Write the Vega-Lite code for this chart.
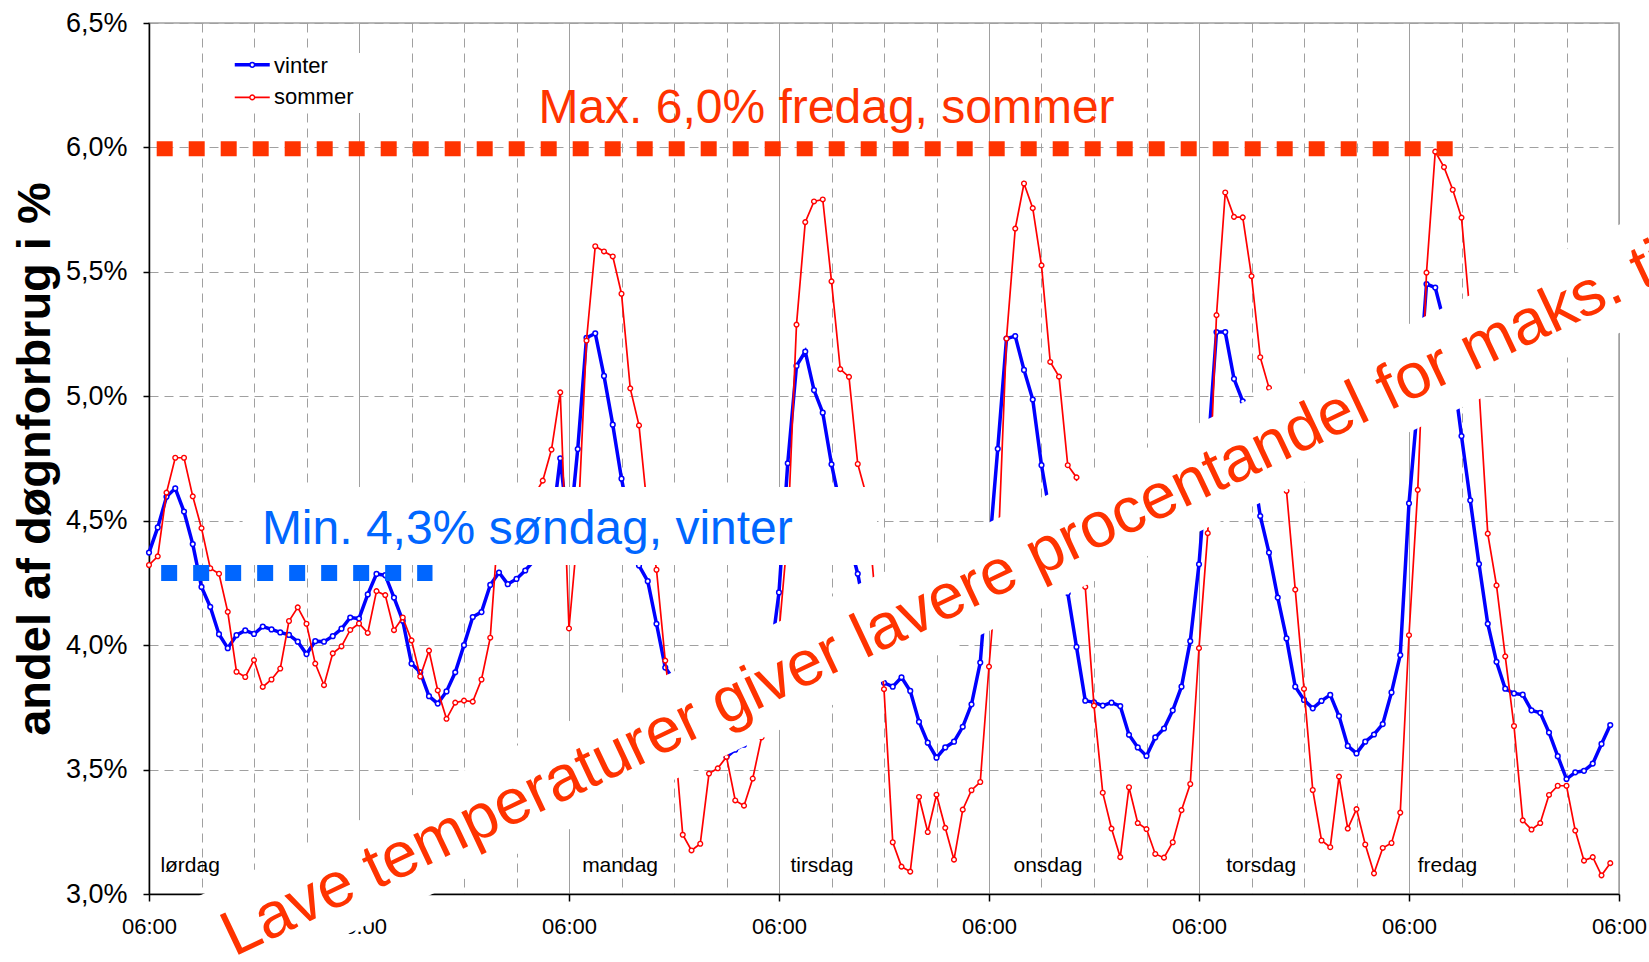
{
  "$schema": "https://vega.github.io/schema/vega-lite/v6.json",
  "width": 1470,
  "height": 871,
  "autosize": {"type": "none"},
  "padding": {"left": 149, "top": 23, "right": 30, "bottom": 68},
  "background": "white",
  "config": {
    "view": {"stroke": "#A0A0A0", "strokeWidth": 1.5},
    "font": "Liberation Sans",
    "axis": {"labelFont": "Liberation Sans", "titleFont": "Liberation Sans"}
  },
  "datasets": {
    "series": [
      {"hour":0,"vinter":4.372,"sommer":4.322},{"hour":1,"vinter":4.473,"sommer":4.357},{"hour":2,"vinter":4.596,"sommer":4.613},{"hour":3,"vinter":4.630,"sommer":4.753},{"hour":4,"vinter":4.537,"sommer":4.753},{"hour":5,"vinter":4.406,"sommer":4.598},{"hour":6,"vinter":4.234,"sommer":4.470},{"hour":7,"vinter":4.154,"sommer":4.309},{"hour":8,"vinter":4.044,"sommer":4.287},{"hour":9,"vinter":3.988,"sommer":4.134},
      {"hour":10,"vinter":4.040,"sommer":3.893},{"hour":11,"vinter":4.059,"sommer":3.872},{"hour":12,"vinter":4.045,"sommer":3.940},{"hour":13,"vinter":4.075,"sommer":3.832},{"hour":14,"vinter":4.063,"sommer":3.862},{"hour":15,"vinter":4.051,"sommer":3.906},{"hour":16,"vinter":4.041,"sommer":4.097},{"hour":17,"vinter":4.014,"sommer":4.152},{"hour":18,"vinter":3.964,"sommer":4.086},{"hour":19,"vinter":4.016,"sommer":3.926},
      {"hour":20,"vinter":4.014,"sommer":3.839},{"hour":21,"vinter":4.036,"sommer":3.967},{"hour":22,"vinter":4.066,"sommer":3.995},{"hour":23,"vinter":4.111,"sommer":4.061},{"hour":24,"vinter":4.107,"sommer":4.087},{"hour":25,"vinter":4.204,"sommer":4.049},{"hour":26,"vinter":4.286,"sommer":4.217},{"hour":27,"vinter":4.281,"sommer":4.201},{"hour":28,"vinter":4.191,"sommer":4.060},{"hour":29,"vinter":4.098,"sommer":4.111},
      {"hour":30,"vinter":3.926,"sommer":4.019},{"hour":31,"vinter":3.891,"sommer":3.874},{"hour":32,"vinter":3.795,"sommer":3.978},{"hour":33,"vinter":3.765,"sommer":3.818},{"hour":34,"vinter":3.814,"sommer":3.704},{"hour":35,"vinter":3.891,"sommer":3.769},{"hour":36,"vinter":4.000,"sommer":3.777},{"hour":37,"vinter":4.113,"sommer":3.773},{"hour":38,"vinter":4.133,"sommer":3.862},{"hour":39,"vinter":4.242,"sommer":4.030},
      {"hour":40,"vinter":4.292,"sommer":4.52},{"hour":41,"vinter":4.245,"sommer":4.55},{"hour":42,"vinter":4.266,"sommer":4.50},{"hour":43,"vinter":4.30,"sommer":4.55},{"hour":44,"vinter":4.34,"sommer":4.60},{"hour":45,"vinter":4.40,"sommer":4.661},{"hour":46,"vinter":4.46,"sommer":4.786},{"hour":47,"vinter":4.751,"sommer":5.016},{"hour":48,"vinter":4.43,"sommer":4.067},{"hour":49,"vinter":4.788,"sommer":4.46},
      {"hour":50,"vinter":5.235,"sommer":5.224},{"hour":51,"vinter":5.253,"sommer":5.603},{"hour":52,"vinter":5.082,"sommer":5.582},{"hour":53,"vinter":4.886,"sommer":5.562},{"hour":54,"vinter":4.669,"sommer":5.412},{"hour":55,"vinter":4.49,"sommer":5.032},{"hour":56,"vinter":4.32,"sommer":4.883},{"hour":57,"vinter":4.257,"sommer":4.53},{"hour":58,"vinter":4.086,"sommer":4.303},{"hour":59,"vinter":3.910,"sommer":3.938},
      {"hour":60,"vinter":3.86,"sommer":3.65},{"hour":61,"vinter":3.83,"sommer":3.238},{"hour":62,"vinter":3.86,"sommer":3.175},{"hour":63,"vinter":3.81,"sommer":3.202},{"hour":64,"vinter":3.69,"sommer":3.484},{"hour":65,"vinter":3.61,"sommer":3.505},{"hour":66,"vinter":3.551,"sommer":3.551},{"hour":67,"vinter":3.58,"sommer":3.376},{"hour":68,"vinter":3.60,"sommer":3.355},{"hour":69,"vinter":3.66,"sommer":3.464},
      {"hour":70,"vinter":3.77,"sommer":3.629},{"hour":71,"vinter":3.94,"sommer":3.78},{"hour":72,"vinter":4.212,"sommer":4.05},{"hour":73,"vinter":4.731,"sommer":4.45},{"hour":74,"vinter":5.122,"sommer":5.288},{"hour":75,"vinter":5.180,"sommer":5.700},{"hour":76,"vinter":5.025,"sommer":5.783},{"hour":77,"vinter":4.934,"sommer":5.791},{"hour":78,"vinter":4.727,"sommer":5.462},{"hour":79,"vinter":4.56,"sommer":5.109},
      {"hour":80,"vinter":4.42,"sommer":5.078},{"hour":81,"vinter":4.287,"sommer":4.728},{"hour":82,"vinter":4.10,"sommer":4.60},{"hour":83,"vinter":3.93,"sommer":4.19},{"hour":84,"vinter":3.849,"sommer":3.823},{"hour":85,"vinter":3.833,"sommer":3.208},{"hour":86,"vinter":3.871,"sommer":3.110},{"hour":87,"vinter":3.816,"sommer":3.090},{"hour":88,"vinter":3.692,"sommer":3.390},{"hour":89,"vinter":3.608,"sommer":3.249},
      {"hour":90,"vinter":3.548,"sommer":3.399},{"hour":91,"vinter":3.589,"sommer":3.266},{"hour":92,"vinter":3.612,"sommer":3.138},{"hour":93,"vinter":3.672,"sommer":3.339},{"hour":94,"vinter":3.762,"sommer":3.417},{"hour":95,"vinter":3.930,"sommer":3.450},{"hour":96,"vinter":4.37,"sommer":3.914},{"hour":97,"vinter":4.789,"sommer":4.34},{"hour":98,"vinter":5.232,"sommer":5.232},{"hour":99,"vinter":5.242,"sommer":5.674},
      {"hour":100,"vinter":5.106,"sommer":5.855},{"hour":101,"vinter":4.987,"sommer":5.756},{"hour":102,"vinter":4.723,"sommer":5.526},{"hour":103,"vinter":4.52,"sommer":5.138},{"hour":104,"vinter":4.37,"sommer":5.079},{"hour":105,"vinter":4.21,"sommer":4.723},{"hour":106,"vinter":3.993,"sommer":4.674},{"hour":107,"vinter":3.777,"sommer":4.234},{"hour":108,"vinter":3.770,"sommer":3.757},{"hour":109,"vinter":3.757,"sommer":3.407},
      {"hour":110,"vinter":3.769,"sommer":3.263},{"hour":111,"vinter":3.755,"sommer":3.148},{"hour":112,"vinter":3.640,"sommer":3.429},{"hour":113,"vinter":3.589,"sommer":3.285},{"hour":114,"vinter":3.555,"sommer":3.261},{"hour":115,"vinter":3.629,"sommer":3.161},{"hour":116,"vinter":3.665,"sommer":3.146},{"hour":117,"vinter":3.738,"sommer":3.208},{"hour":118,"vinter":3.833,"sommer":3.337},{"hour":119,"vinter":4.016,"sommer":3.442},
      {"hour":120,"vinter":4.325,"sommer":3.988},{"hour":121,"vinter":4.77,"sommer":4.45},{"hour":122,"vinter":5.258,"sommer":5.326},{"hour":123,"vinter":5.258,"sommer":5.819},{"hour":124,"vinter":5.070,"sommer":5.721},{"hour":125,"vinter":4.980,"sommer":5.719},{"hour":126,"vinter":4.75,"sommer":5.483},{"hour":127,"vinter":4.519,"sommer":5.157},{"hour":128,"vinter":4.372,"sommer":5.034},{"hour":129,"vinter":4.191,"sommer":4.80},
      {"hour":130,"vinter":4.027,"sommer":4.620},{"hour":131,"vinter":3.833,"sommer":4.223},{"hour":132,"vinter":3.780,"sommer":3.824},{"hour":133,"vinter":3.746,"sommer":3.418},{"hour":134,"vinter":3.776,"sommer":3.215},{"hour":135,"vinter":3.800,"sommer":3.188},{"hour":136,"vinter":3.715,"sommer":3.472},{"hour":137,"vinter":3.595,"sommer":3.263},{"hour":138,"vinter":3.565,"sommer":3.341},{"hour":139,"vinter":3.612,"sommer":3.199},
      {"hour":140,"vinter":3.641,"sommer":3.083},{"hour":141,"vinter":3.683,"sommer":3.185},{"hour":142,"vinter":3.810,"sommer":3.205},{"hour":143,"vinter":3.960,"sommer":3.327},{"hour":144,"vinter":4.570,"sommer":4.040},{"hour":145,"vinter":4.97,"sommer":4.624},{"hour":146,"vinter":5.451,"sommer":5.497},{"hour":147,"vinter":5.437,"sommer":5.983},{"hour":148,"vinter":5.30,"sommer":5.921},{"hour":149,"vinter":5.11,"sommer":5.830},
      {"hour":150,"vinter":4.84,"sommer":5.718},{"hour":151,"vinter":4.582,"sommer":5.32},{"hour":152,"vinter":4.326,"sommer":5.03},{"hour":153,"vinter":4.086,"sommer":4.448},{"hour":154,"vinter":3.933,"sommer":4.240},{"hour":155,"vinter":3.825,"sommer":3.955},{"hour":156,"vinter":3.806,"sommer":3.675},{"hour":157,"vinter":3.801,"sommer":3.296},{"hour":158,"vinter":3.738,"sommer":3.259},{"hour":159,"vinter":3.728,"sommer":3.285},
      {"hour":160,"vinter":3.649,"sommer":3.398},{"hour":161,"vinter":3.554,"sommer":3.435},{"hour":162,"vinter":3.462,"sommer":3.435},{"hour":163,"vinter":3.489,"sommer":3.255},{"hour":164,"vinter":3.495,"sommer":3.134},{"hour":165,"vinter":3.524,"sommer":3.148},{"hour":166,"vinter":3.603,"sommer":3.075},{"hour":167,"vinter":3.679,"sommer":3.124}
    ],
    "days": [
      {"day":"lørdag","hour":1.3},{"day":"søndag","hour":25.5},{"day":"mandag","hour":49.5},{"day":"tirsdag","hour":73.3},{"day":"onsdag","hour":98.8},{"day":"torsdag","hour":123.1},{"day":"fredag","hour":145.0}
    ]
  },
  "layer": [
    {
      "data": {"name": "series"},
      "transform": [{"fold": ["vinter", "sommer"], "as": ["season", "value"]}],
      "layer": [
        {
          "transform": [{"filter": "datum.season === 'vinter'"}],
          "mark": {"type": "line", "color": "#0000FF", "strokeWidth": 3.5},
          "encoding": {
            "x": {
              "field": "hour", "type": "quantitative",
              "scale": {"domain": [0, 168], "nice": false, "zero": false},
              "axis": {
                "values": [0,6,12,18,24,30,36,42,48,54,60,66,72,78,84,90,96,102,108,114,120,126,132,138,144,150,156,162,168],
                "labelExpr": "datum.value % 24 === 0 ? '06:00' : ''",
                "labelFlush": false, "labelOverlap": false, "labelBound": false,
                "labelFontSize": 22, "labelColor": "black", "labelBaseline": "alphabetic", "labelPadding": 32,
                "tickSize": 7, "tickColor": "black", "tickWidth": 1.5,
                "tickOpacity": {"condition": {"test": "datum.value % 24 === 0", "value": 1}, "value": 0},
                "domainColor": "black", "domainWidth": 1.5,
                "grid": true, "gridColor": "#A0A0A0", "gridWidth": 1,
                "gridDash": {"condition": {"test": "datum.value % 24 === 0", "value": []}, "value": [9, 6]},
                "title": null
              }
            },
            "y": {
              "field": "value", "type": "quantitative",
              "scale": {"domain": [3, 6.5], "nice": false, "zero": false},
              "axis": {
                "values": [3, 3.5, 4, 4.5, 5, 5.5, 6, 6.5],
                "labelExpr": "replace(format(datum.value, '.1f'), '.', ',') + '%'",
                "labelFontSize": 27, "labelColor": "black", "labelPadding": 16,
                "tickSize": 6, "tickColor": "black", "tickWidth": 1.5,
                "domainColor": "black", "domainWidth": 1.5,
                "grid": true, "gridColor": "#A0A0A0", "gridWidth": 1, "gridDash": [9, 6],
                "title": "andel af døgnforbrug i %",
                "titleFontSize": 47, "titleFontWeight": "bold", "titleColor": "black",
                "titleAngle": 270, "titleX": -100, "titleY": 435.5,
                "titleAlign": "center", "titleBaseline": "alphabetic"
              }
            }
          }
        },
        {
          "transform": [{"filter": "datum.season === 'vinter'"}],
          "mark": {"type": "point", "shape": "circle", "filled": true, "fill": "white", "stroke": "#0000FF", "strokeWidth": 1.5, "size": 22, "opacity": 1},
          "encoding": {"x": {"field": "hour", "type": "quantitative"}, "y": {"field": "value", "type": "quantitative"}}
        },
        {
          "transform": [{"filter": "datum.season === 'sommer'"}],
          "mark": {"type": "line", "color": "#FF0000", "strokeWidth": 1.7},
          "encoding": {"x": {"field": "hour", "type": "quantitative"}, "y": {"field": "value", "type": "quantitative"}}
        },
        {
          "transform": [{"filter": "datum.season === 'sommer'"}],
          "mark": {"type": "point", "shape": "circle", "filled": true, "fill": "white", "stroke": "#FF0000", "strokeWidth": 1.4, "size": 22, "opacity": 1},
          "encoding": {"x": {"field": "hour", "type": "quantitative"}, "y": {"field": "value", "type": "quantitative"}}
        }
      ]
    },
    {
      "data": {"name": "days"},
      "mark": {"type": "text", "align": "left", "baseline": "alphabetic", "fontSize": 21, "color": "black"},
      "encoding": {
        "x": {"field": "hour", "type": "quantitative"},
        "y": {"datum": 3.087, "type": "quantitative"},
        "text": {"field": "day"}
      }
    },
    {
      "data": {"values": [{}]},
      "layer": [
        {"mark": {"type": "rect", "fill": "white"}, "encoding": {"x": {"datum": 10.7, "type": "quantitative"}, "x2": {"datum": 83.2}, "y": {"datum": 4.322, "type": "quantitative"}, "y2": {"datum": 4.635}}},
        {"mark": {"type": "text", "text": "Min. 4,3% søndag, vinter", "align": "left", "baseline": "alphabetic", "fontSize": 48, "color": "#0066FF"}, "encoding": {"x": {"datum": 12.9, "type": "quantitative"}, "y": {"datum": 4.406, "type": "quantitative"}}},
        {"mark": {"type": "rule", "color": "#0066FF", "strokeWidth": 16, "strokeDash": [16, 16], "strokeCap": "butt"}, "encoding": {"x": {"datum": 1.39, "type": "quantitative"}, "x2": {"datum": 32.4}, "y": {"datum": 4.29, "type": "quantitative"}}},
        {"mark": {"type": "rule", "color": "#FF3300", "strokeWidth": 15, "strokeDash": [16, 16], "strokeCap": "butt"}, "encoding": {"x": {"datum": 0.88, "type": "quantitative"}, "x2": {"datum": 149.1}, "y": {"datum": 5.995, "type": "quantitative"}}},
        {"mark": {"type": "text", "text": "Max. 6,0% fredag, sommer", "align": "left", "baseline": "alphabetic", "fontSize": 48, "color": "#FF3300"}, "encoding": {"x": {"datum": 44.5, "type": "quantitative"}, "y": {"datum": 6.098, "type": "quantitative"}}},
        {"mark": {"type": "rect", "fill": "white"}, "encoding": {"x": {"datum": 8.8, "type": "quantitative"}, "x2": {"datum": 24.4}, "y": {"datum": 6.138, "type": "quantitative"}, "y2": {"datum": 6.379}}},
        {"mark": {"type": "rule", "color": "#0000FF", "strokeWidth": 3.5}, "encoding": {"x": {"datum": 9.8, "type": "quantitative"}, "x2": {"datum": 13.8}, "y": {"datum": 6.332, "type": "quantitative"}}},
        {"mark": {"type": "point", "shape": "circle", "filled": true, "fill": "white", "stroke": "#0000FF", "strokeWidth": 1.5, "size": 22, "opacity": 1}, "encoding": {"x": {"datum": 11.8, "type": "quantitative"}, "y": {"datum": 6.332, "type": "quantitative"}}},
        {"mark": {"type": "text", "text": "vinter", "align": "left", "baseline": "alphabetic", "fontSize": 22, "color": "black"}, "encoding": {"x": {"datum": 14.29, "type": "quantitative"}, "y": {"datum": 6.298, "type": "quantitative"}}},
        {"mark": {"type": "rule", "color": "#FF0000", "strokeWidth": 1.7}, "encoding": {"x": {"datum": 9.8, "type": "quantitative"}, "x2": {"datum": 13.8}, "y": {"datum": 6.201, "type": "quantitative"}}},
        {"mark": {"type": "point", "shape": "circle", "filled": true, "fill": "white", "stroke": "#FF0000", "strokeWidth": 1.4, "size": 22, "opacity": 1}, "encoding": {"x": {"datum": 11.8, "type": "quantitative"}, "y": {"datum": 6.201, "type": "quantitative"}}},
        {"mark": {"type": "text", "text": "sommer", "align": "left", "baseline": "alphabetic", "fontSize": 22, "color": "black"}, "encoding": {"x": {"datum": 14.29, "type": "quantitative"}, "y": {"datum": 6.174, "type": "quantitative"}}},
        {"mark": {"type": "point", "shape": "M-1,-0.05765L1,-0.05765L1,0.05765L-1,0.05765Z", "filled": true, "fill": "white", "strokeWidth": 0, "size": 2890000, "angle": 334.7, "opacity": 1}, "encoding": {"x": {"datum": 95.32, "type": "quantitative"}, "y": {"datum": 4.2636, "type": "quantitative"}}},
        {"mark": {"type": "text", "text": "Lave temperaturer giver lavere procentandel for maks. timer", "align": "left", "baseline": "alphabetic", "fontSize": 64, "angle": 334.7, "color": "#FF3300"}, "encoding": {"x": {"datum": 9.72, "type": "quantitative"}, "y": {"datum": 2.747, "type": "quantitative"}}}
      ]
    }
  ]
}
